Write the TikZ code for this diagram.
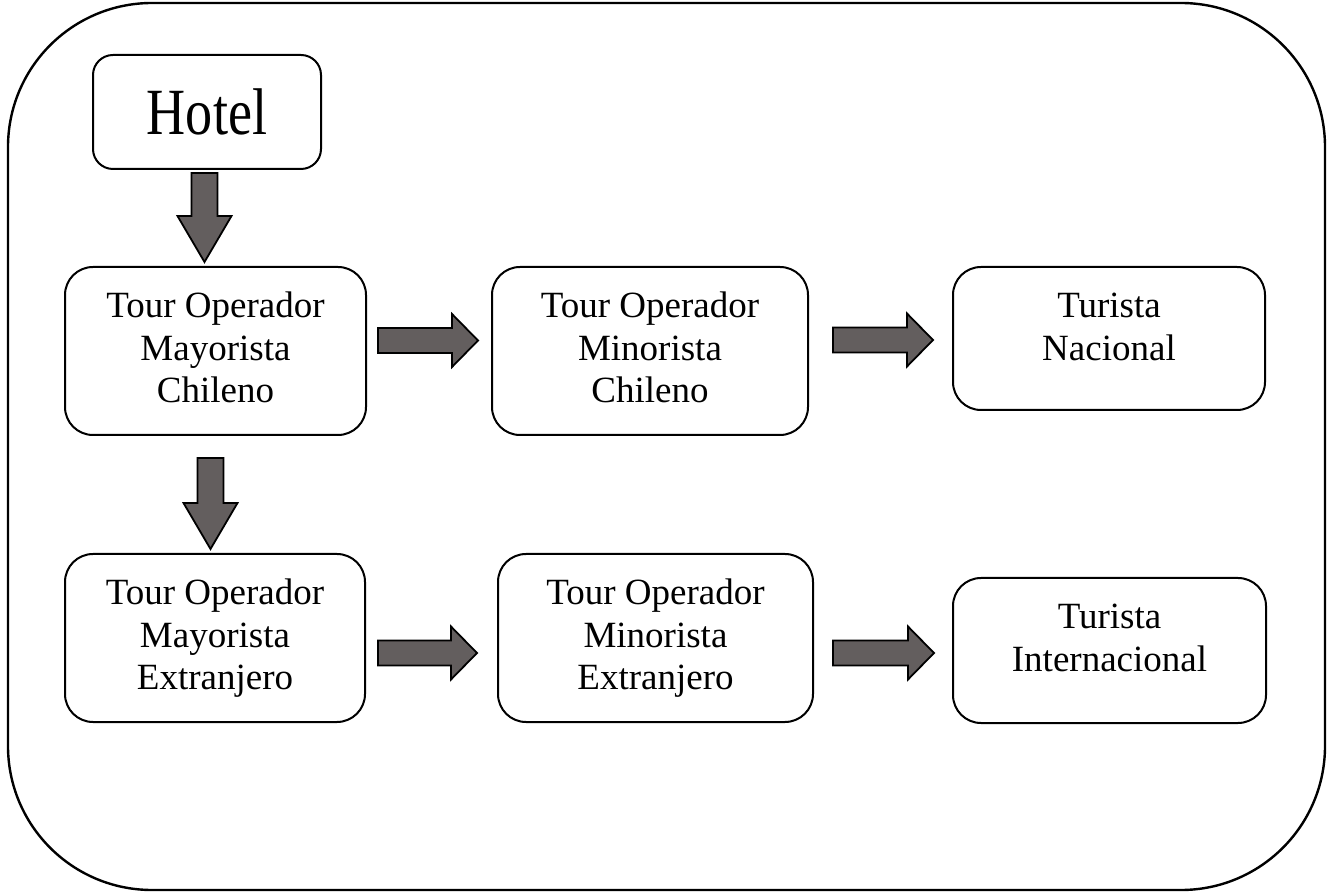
\documentclass[tikz,border=0pt]{standalone}
\usepackage{fontspec}
\setmainfont{Liberation Serif}
\usepackage{graphicx}
\usetikzlibrary{calc}

\definecolor{arrowgray}{RGB}{99,94,94}
\newcommand{\boxtext}[3]{\parbox[c][#2][t]{#1}{\centering\fontsize{18.5}{21.25}\selectfont\rule{0pt}{25.5pt}#3}}

\tikzset{
  box/.style={draw=black, line width=1pt, rounded corners=14pt, inner sep=0pt},
  fat/.style={draw=black, fill=arrowgray, line width=0.9pt, line join=miter},
  harrow/.style={to path={let \p1=(\tikztostart), \p2=(\tikztotarget) in
    (\x1,\y1+6.25pt) -- (\x2-13pt,\y1+6.25pt) -- (\x2-13pt,\y1+13.25pt) -- (\x2,\y1)
    -- (\x2-13pt,\y1-13.25pt) -- (\x2-13pt,\y1-6.25pt) -- (\x1,\y1-6.25pt) -- cycle}},
  varrow/.style={to path={let \p1=(\tikztostart), \p2=(\tikztotarget) in
    (\x1-6.5pt,\y1) -- (\x1-6.5pt,\y2+23pt) -- (\x1-13.5pt,\y2+23pt) -- (\x1,\y2)
    -- (\x1+13.5pt,\y2+23pt) -- (\x1+6.5pt,\y2+23pt) -- (\x1+6.5pt,\y1) -- cycle}}
}

\begin{document}
\begin{tikzpicture}
\useasboundingbox (0pt,0pt) rectangle (664pt,-446pt);
\draw [line width=1.2pt, rounded corners=72pt] (4pt,-1.5pt) rectangle (662.5pt,-445pt);
\node (hotel) [box, rounded corners=10pt] at (103.5pt, -56pt) {\parbox[c][57pt][c]{114pt}{\centering\fontsize{33}{36}\selectfont\scalebox{0.82}[1]{Hotel}}};
\node (mayCh) [box] at (107.75pt, -175.5pt) {\boxtext{150.5pt}{84pt}{Tour Operador\\Mayorista\\Chileno}};
\node (minCh) [box] at (325pt, -175.5pt) {\boxtext{158pt}{84pt}{Tour Operador\\Minorista\\Chileno}};
\node (turNac) [box] at (554.5pt, -169.25pt) {\boxtext{156pt}{71.5pt}{Turista\\Nacional}};
\node (mayEx) [box] at (107.5pt, -319pt) {\boxtext{150pt}{84pt}{Tour Operador\\Mayorista\\Extranjero}};
\node (minEx) [box] at (327.75pt, -319pt) {\boxtext{157.5pt}{84pt}{Tour Operador\\Minorista\\Extranjero}};
\node (turInt) [box] at (554.75pt, -325.25pt) {\boxtext{156.5pt}{72.5pt}{Turista\\Internacional}};
\draw [fat, varrow] ([xshift=-1.25pt, yshift=-1.5pt]hotel.south) to ([yshift=2pt]mayCh.north);
\draw [fat, varrow] ([xshift=-2.5pt, yshift=-11pt]mayCh.south) to ([yshift=2pt]mayEx.north);
\draw [fat, harrow] ([xshift=5.5pt, yshift=5.25pt]mayCh.east) to ([xshift=-6.5pt]minCh.west);
\draw [fat, harrow] ([xshift=12pt, yshift=5.5pt]minCh.east) to ([xshift=-9.5pt]turNac.west);
\draw [fat, harrow] ([xshift=6pt, yshift=-7.5pt]mayEx.east) to ([xshift=-10pt]minEx.west);
\draw [fat, harrow] ([xshift=9.5pt, yshift=-7.5pt]minEx.east) to ([xshift=-9pt]turInt.west);
\end{tikzpicture}
\end{document}
